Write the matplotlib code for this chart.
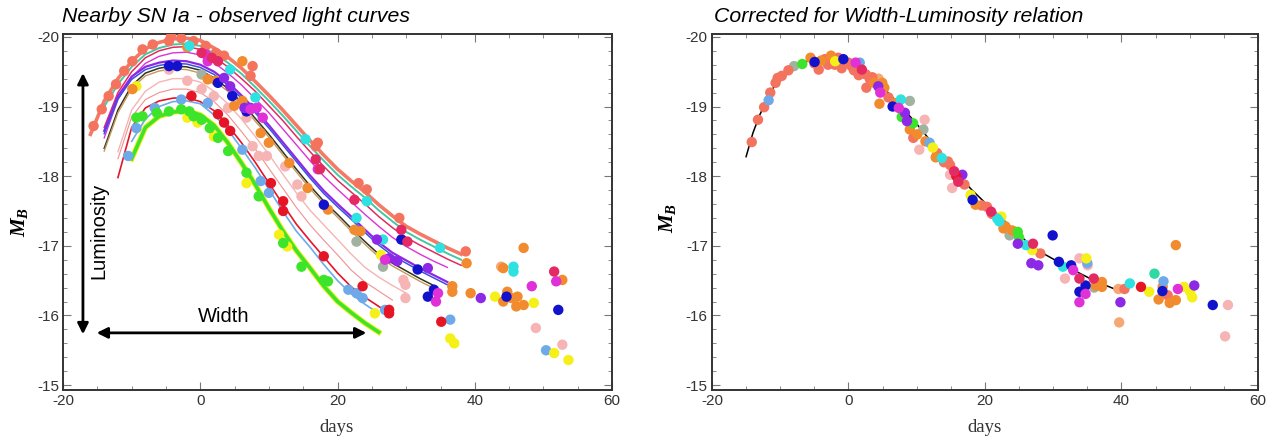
import numpy as np
import matplotlib.pyplot as plt
from matplotlib.ticker import MultipleLocator

plt.rcParams['axes.unicode_minus'] = False
plt.rcParams['mathtext.fontset'] = 'custom'
plt.rcParams['mathtext.it'] = 'Liberation Serif:italic:bold'
plt.rcParams['mathtext.rm'] = 'Liberation Serif:bold'

nan = np.nan

# ---- fitted light curves of the left panel (days since B max, M_B) ----
curve_days = [-16, -14, -12, -10, -8, -6, -4, -2, 0, 2, 4, 6, 8, 10, 12, 14,
              16, 18, 20, 22, 24, 26, 28, 30, 32, 34, 36, 38, 40]

curve_tomato = [-18.60, -19.08, -19.40, -19.65, -19.83, -19.92, -19.97, -19.98, -19.95, -19.84,
                -19.71, -19.55, -19.36, -19.16, -18.95, -18.73, -18.51, -18.30, -18.10, -17.93,
                -17.77, -17.59, -17.43, -17.28, -17.17, -17.07, -16.97, -16.88, nan]
curve_aqua = [nan, -19.00, -19.32, -19.57, -19.75, -19.84, -19.89, -19.90, -19.87, -19.76,
              -19.63, -19.47, -19.28, -19.08, -18.87, -18.65, -18.43, -18.22, -18.02, -17.85,
              -17.69, -17.51, -17.35, -17.20, -17.09, -16.99, -16.89, -16.80, nan]
curve_crimson = [nan, -18.70, -19.20, -19.50, -19.70, -19.80, -19.85, -19.86, -19.82, -19.71,
                 -19.57, -19.40, -19.22, -19.01, -18.80, -18.57, -18.35, -18.14, -17.94, -17.77,
                 -17.60, -17.42, -17.26, -17.12, -17.01, -16.91, -16.81, -16.72, nan]
curve_magenta = [nan, -18.55, -19.10, -19.42, -19.62, -19.72, -19.77, -19.78, -19.74, -19.63,
                 -19.48, -19.31, -19.11, -18.91, -18.68, -18.45, -18.22, -18.00, -17.81, -17.63,
                 -17.45, -17.28, -17.12, -16.99, -16.88, -16.78, -16.69, nan, nan]
curve_purple = [nan, -18.65, -19.15, -19.43, -19.57, -19.63, -19.66, -19.65, -19.60, -19.50,
                -19.35, -19.16, -18.95, -18.73, -18.49, -18.25, -18.01, -17.79, -17.60, -17.42,
                -17.23, -17.05, -16.90, -16.79, -16.68, -16.58, -16.48, nan, nan]
curve_blue = [nan, -18.61, -19.11, -19.39, -19.53, -19.59, -19.62, -19.61, -19.56, -19.46,
              -19.31, -19.12, -18.91, -18.69, -18.45, -18.21, -17.97, -17.75, -17.56, -17.38,
              -17.19, -17.01, -16.86, -16.75, -16.64, -16.54, -16.44, nan, nan]
curve_dark = [nan, -18.40, -18.95, -19.30, -19.48, -19.55, -19.58, -19.57, -19.52, -19.41,
              -19.26, -19.06, -18.83, -18.60, -18.35, -18.10, -17.86, -17.64, -17.45, -17.25,
              -17.06, -16.88, -16.75, -16.64, -16.53, -16.43, nan, nan, nan]
curve_tan = [nan, -18.36, -18.91, -19.26, -19.44, -19.51, -19.54, -19.53, -19.48, -19.37,
             -19.22, -19.02, -18.79, -18.56, -18.31, -18.06, -17.82, -17.60, -17.41, -17.21,
             -17.02, -16.84, -16.71, -16.60, -16.49, -16.39, nan, nan, nan]
curve_pink = [nan, nan, -18.35, -18.95, -19.22, -19.35, -19.40, -19.40, -19.35, -19.22,
              -19.04, -18.82, -18.57, -18.31, -18.03, -17.76, -17.51, -17.30, -17.09, -16.88,
              -16.69, -16.55, -16.43, -16.32, nan, nan, nan, nan, nan]
curve_coral = [nan, nan, -18.25, -18.85, -19.10, -19.20, -19.25, -19.25, -19.20, -19.07,
               -18.88, -18.64, -18.39, -18.11, -17.83, -17.55, -17.30, -17.08, -16.87, -16.65,
               -16.48, -16.35, -16.22, nan, nan, nan, nan, nan, nan]
curve_red = [nan, nan, -17.98, -18.70, -18.98, -19.08, -19.12, -19.13, -19.07, -18.94,
             -18.73, -18.48, -18.20, -17.90, -17.60, -17.31, -17.07, -16.84, -16.61, -16.41,
             -16.26, -16.13, -16.00, nan, nan, nan, nan, nan, nan]
curve_lightblue = [nan, nan, nan, -18.50, -18.82, -19.00, -19.07, -19.08, -19.04, -18.88,
                   -18.67, -18.40, -18.12, -17.81, -17.50, -17.21, -16.98, -16.73, -16.50, -16.31,
                   -16.16, -16.03, nan, nan, nan, nan, nan, nan, nan]
curve_green = [nan, nan, nan, -18.25, -18.70, -18.86, -18.92, -18.94, -18.88, -18.73,
               -18.48, -18.19, -17.88, -17.54, -17.22, -16.93, -16.68, -16.42, -16.20, -16.04,
               -15.89, -15.76, nan, nan, nan, nan, nan, nan, nan]

# ---- template of the right panel ----
template_days = [-15, -14, -13, -12, -11, -10, -9, -8, -6, -4, -2, 0, 2, 4, 6, 8, 10,
                 12, 14, 16, 18, 20, 22, 24, 26, 28, 30, 32, 34, 36, 38, 39]
template_mag = [-18.28, -18.62, -18.88, -19.08, -19.27, -19.41, -19.51, -19.58, -19.65, -19.68,
                -19.67, -19.62, -19.52, -19.37, -19.18, -18.97, -18.75, -18.51, -18.27, -18.03,
                -17.81, -17.62, -17.44, -17.25, -17.07, -16.92, -16.81, -16.70, -16.60, -16.50,
                -16.42, -16.38]

# ---- observed points, left panel (day, M_B) ----
left_tomato = [(-15.55, -18.72), (-14.36, -18.96), (-13.35, -19.15), (-12.28, -19.32),
               (-11.09, -19.51), (-9.90, -19.65), (-8.42, -19.82), (-6.93, -19.89),
               (-4.56, -19.94), (-4.26, -20.01), (-2.78, -19.98), (-0.99, -19.94),
               (0.79, -19.87), (2.27, -19.77), (3.46, -19.73), (7.32, -19.44), (7.62, -19.58),
               (17.12, -18.48), (16.82, -18.43), (23.06, -17.90), (24.25, -17.81),
               (29.0, -17.40), (38.68, -16.92)]
left_orange = [(-9.90, -19.25), (-1.89, -19.85), (1.08, -19.39), (2.27, -19.37), (4.94, -19.01),
               (6.13, -19.08), (6.13, -19.65), (8.80, -18.62), (9.99, -18.48), (12.96, -18.19),
               (15.63, -17.83), (18.60, -17.52), (22.46, -17.23), (23.35, -17.21),
               (36.72, -16.42), (36.72, -16.34), (39.39, -16.32), (44.14, -16.68),
               (44.73, -16.34), (45.33, -16.25), (46.22, -16.27), (47.11, -16.15),
               (46.04, -16.13), (44.14, -16.20), (47.11, -16.97), (52.75, -16.51), (38.80, -16.75)]
left_crimson = [(0.19, -19.77), (1.68, -19.70), (2.57, -19.65), (16.82, -18.24), (17.42, -18.10),
                (22.46, -17.66), (29.29, -17.23), (30.18, -17.06), (51.56, -16.63)]
left_red = [(-1.29, -19.15), (2.57, -18.89), (3.46, -18.77), (4.35, -18.65), (10.29, -17.90),
            (12.07, -17.64), (12.07, -17.50), (17.99, -16.85), (23.65, -16.42), (27.51, -16.08),
            (27.51, -16.03), (35.11, -15.91)]
left_magenta = [(0.79, -19.75), (1.08, -19.65), (7.32, -18.96), (8.21, -18.98), (9.10, -18.84),
                (17.12, -18.10), (26.92, -16.80), (34.34, -16.20), (34.64, -16.32),
                (48.30, -16.42), (51.86, -16.49)]
left_purple = [(3.46, -19.41), (4.35, -19.29), (6.43, -18.98), (7.32, -18.98), (25.73, -17.09),
               (27.51, -16.82), (28.70, -16.78), (33.15, -16.68), (40.87, -16.25)]
left_navy = [(-3.37, -19.58), (-4.56, -19.58), (2.57, -19.34), (4.65, -19.15), (6.73, -18.93),
             (18.0, -17.59), (29.29, -17.09), (31.67, -16.66), (33.15, -16.27), (34.04, -16.37),
             (44.62, -16.27), (52.16, -16.08)]
left_cyan = [(-1.59, -19.87), (4.35, -19.53), (8.03, -19.13), (15.33, -18.53), (24.25, -17.64),
             (22.76, -17.40), (26.62, -17.09), (34.93, -16.97), (45.63, -16.70), (45.63, -16.63)]
left_green = [(-9.31, -18.84), (-8.42, -18.86), (-6.34, -18.91), (-4.56, -18.93), (-2.78, -18.96),
              (-1.59, -18.93), (-0.99, -18.86), (0.19, -18.81), (1.38, -18.69), (2.57, -18.55),
              (4.05, -18.36), (6.73, -18.05), (8.51, -17.71), (12.07, -17.04), (14.74, -16.70),
              (18.0, -16.51), (18.6, -16.49)]
left_yellow = [(-9.31, -19.29), (-1.89, -18.84), (-0.40, -18.77), (1.97, -18.57), (6.73, -17.90),
               (11.48, -17.16), (12.66, -16.99), (25.43, -16.03), (26.32, -16.87), (36.42, -15.67),
               (37.0, -15.60), (42.95, -16.27), (48.59, -16.18), (51.56, -15.46), (53.64, -15.36)]
left_lightblue = [(-10.50, -18.29), (-9.31, -18.69), (-6.64, -18.98), (-2.78, -19.10),
                  (1.08, -19.05), (6.13, -18.38), (8.80, -17.93), (9.99, -17.76), (21.57, -16.37),
                  (22.76, -16.32), (23.65, -16.25), (26.92, -16.08), (36.42, -15.94),
                  (50.38, -15.50)]
left_pink = [(-4.56, -19.53), (-1.89, -19.37), (0.19, -19.25), (1.97, -19.15), (4.05, -18.98),
             (6.73, -18.84), (7.62, -18.43), (8.51, -18.29), (9.70, -18.29), (12.37, -18.14),
             (14.15, -17.88), (14.74, -17.71), (29.59, -16.51), (29.89, -16.44), (29.89, -16.25),
             (48.89, -15.82), (52.75, -15.58)]
left_gray = [(0.19, -19.46), (22.76, -17.06), (26.62, -16.70)]
left_peach = [(43.84, -16.70)]

# ---- corrected points, right panel (day, M_B) ----
right_salmon = [(-14.17, -18.49), (-13.26, -18.81), (-12.36, -18.99), (-11.46, -19.20),
                (-10.68, -19.34), (-10.38, -19.41), (-9.77, -19.44), (-8.8, -19.52),
                (-4.36, -19.53), (-5.0, -19.62), (-3.46, -19.68), (-3.0, -19.60), (-2.0, -19.60),
                (-1.5, -19.70), (-1.35, -19.63), (-1.0, -19.55), (0.0, -19.63), (0.45, -19.58),
                (0.8, -19.52), (1.2, -19.55), (1.5, -19.45), (2.56, -19.46), (3.16, -19.39),
                (2.62, -19.27), (3.5, -19.42), (5.86, -19.13), (9.5, -18.55), (13.0, -18.33),
                (14.0, -18.20), (14.59, -18.21), (14.89, -18.16), (17.0, -17.88), (19.5, -17.58),
                (20.30, -17.56), (21.0, -17.46), (28.12, -16.89), (40.45, -16.38), (46.77, -16.29)]
right_orange = [(-5.56, -19.70), (-2.56, -19.73), (-4.0, -19.66), (3.76, -19.34), (4.96, -19.34),
                (5.26, -19.27), (4.54, -19.04), (6.8, -19.05), (8.99, -18.67), (10.08, -18.60),
                (11.28, -18.50), (12.78, -18.27), (18.62, -17.59), (22.71, -17.25), (23.0, -17.28),
                (24.0, -17.22), (36.24, -16.43), (37.14, -16.48), (37.14, -16.41),
                (45.44, -16.23), (46.04, -16.41), (47.07, -16.18), (47.97, -16.22), (47.97, -17.01)]
right_peach = [(39.55, -16.38), (39.67, -15.90), (4.4, -19.40)]
right_gray = [(-7.97, -19.58), (8.99, -19.08), (10.98, -18.67), (23.61, -17.15), (36.0, -16.40)]
right_green = [(-6.77, -19.61), (9.47, -18.76), (24.81, -17.20), (7.8, -18.85), (25.0, -17.12)]
right_navy = [(-4.96, -19.64), (-0.75, -19.68), (6.47, -19.00), (18.19, -17.66), (29.92, -17.15),
              (30.83, -16.77), (32.63, -16.72), (34.74, -16.43), (33.84, -16.34), (53.38, -16.15),
              (46.0, -16.35)]
right_yellow = [(-1.95, -19.65), (12.36, -18.41), (17.89, -17.73), (22.41, -17.42), (26.92, -16.94),
                (34.86, -16.82), (44.06, -16.34), (49.17, -16.41), (50.07, -16.34), (50.37, -16.26)]
right_magenta = [(1.05, -19.63), (4.66, -19.20), (7.37, -18.98), (32.93, -16.65), (34.74, -16.31),
                 (33.84, -16.19), (48.27, -16.38)]
right_lightblue = [(-11.70, -19.09), (1.65, -19.63), (11.88, -18.48), (46.16, -16.49), (35.0, -16.75)]
right_crimson = [(1.96, -19.53), (15.49, -18.07), (16.09, -17.92), (20.90, -17.49), (27.04, -17.03),
                 (33.84, -16.53), (35.94, -16.53)]
right_red = [(42.86, -16.41), (15.8, -18.0)]
right_purple = [(4.36, -19.29), (8.27, -18.91), (8.57, -18.79), (16.69, -18.02), (24.81, -17.03),
                (26.80, -16.75), (27.82, -16.72), (39.85, -16.19), (50.67, -16.43)]
right_cyan = [(7.67, -19.10), (13.68, -18.26), (21.81, -17.39), (22.11, -17.35), (26.02, -17.01),
              (31.43, -16.70), (41.23, -16.46)]
right_teal = [(44.84, -16.60)]
right_pink = [(11.16, -18.81), (10.38, -18.38), (14.89, -18.02), (15.19, -17.83), (31.73, -16.53),
              (33.84, -16.82), (35.04, -16.72), (55.61, -16.15), (55.19, -15.70)]

C = {
    'tomato': '#f47a66', 'aqua': '#44c8a4', 'crimson': '#e42a62', 'magenta': '#e030d8',
    'purple': '#8c28e6', 'blue': '#3a50e0', 'dark': '#333320', 'tan': '#c49a5c',
    'pink': '#f6b4b4', 'coral': '#f29090', 'red': '#e61526', 'lightblue': '#6eaaea',
    'green': '#3ce52c', 'yellow': '#f4f018', 'orange': '#f28a2e', 'navy': '#1212cc',
    'cyan': '#2fe2e2', 'gray': '#a2b2a0', 'peach': '#f6a874', 'salmon': '#f4735e',
    'teal': '#2fd8a4',
}

fig = plt.figure(figsize=(12.84, 4.46), dpi=100)
ax1 = fig.add_axes([0.0491, 0.1256, 0.4276, 0.798])
ax2 = fig.add_axes([0.5545, 0.1256, 0.4252, 0.798])


def dots(ax, pts, color):
    arr = np.array(pts)
    ax.scatter(arr[:, 0], arr[:, 1], s=56, color=color, edgecolors='none', zorder=3)


# left: fitted curves
ax1.plot(curve_days, curve_tomato, color=C['tomato'], lw=2.6, zorder=2)
ax1.plot(curve_days, curve_aqua, color=C['aqua'], lw=1.4, zorder=2)
ax1.plot(curve_days, curve_crimson, color=C['crimson'], lw=1.1, zorder=2)
ax1.plot(curve_days, curve_magenta, color=C['magenta'], lw=1.0, zorder=2)
ax1.plot(curve_days, curve_purple, color=C['purple'], lw=1.6, zorder=2)
ax1.plot(curve_days, curve_blue, color=C['blue'], lw=1.1, zorder=2)
ax1.plot(curve_days, curve_dark, color=C['dark'], lw=1.1, zorder=2)
ax1.plot(curve_days, curve_tan, color=C['tan'], lw=1.0, zorder=2)
ax1.plot(curve_days, curve_pink, color=C['pink'], lw=1.0, zorder=2)
ax1.plot(curve_days, curve_coral, color=C['coral'], lw=0.8, zorder=2)
ax1.plot(curve_days, curve_red, color=C['red'], lw=1.2, zorder=2)
ax1.plot(curve_days, curve_lightblue, color=C['lightblue'], lw=1.2, zorder=2)
ax1.plot(curve_days, curve_green, color=C['yellow'], lw=4.0, zorder=2)
ax1.plot(curve_days, curve_green, color=C['green'], lw=2.6, zorder=2)

for pts, c in [(left_pink, 'pink'), (left_gray, 'gray'), (left_peach, 'peach'),
               (left_lightblue, 'lightblue'), (left_yellow, 'yellow'), (left_green, 'green'),
               (left_orange, 'orange'), (left_tomato, 'salmon'), (left_cyan, 'cyan'),
               (left_navy, 'navy'), (left_purple, 'purple'), (left_magenta, 'magenta'),
               (left_red, 'red'), (left_crimson, 'crimson')]:
    dots(ax1, pts, C[c])

# right: template and corrected points
ax2.plot(template_days, template_mag, color='black', lw=1.1, zorder=2)
for pts, c in [(right_pink, 'pink'), (right_gray, 'gray'), (right_peach, 'peach'),
               (right_salmon, 'salmon'), (right_orange, 'orange'), (right_lightblue, 'lightblue'),
               (right_yellow, 'yellow'), (right_green, 'green'), (right_teal, 'teal'),
               (right_cyan, 'cyan'), (right_navy, 'navy'), (right_purple, 'purple'),
               (right_magenta, 'magenta'), (right_red, 'red'), (right_crimson, 'crimson')]:
    dots(ax2, pts, C[c])

serif = 'Liberation Serif'
sans = 'Liberation Sans'
for ax in (ax1, ax2):
    ax.set_xlim(-20, 60)
    ax.set_ylim(-14.93, -20.04)
    ax.xaxis.set_major_locator(MultipleLocator(20))
    ax.xaxis.set_minor_locator(MultipleLocator(5))
    ax.yaxis.set_major_locator(MultipleLocator(1))
    ax.yaxis.set_minor_locator(MultipleLocator(0.2))
    ax.tick_params(which='both', direction='in', top=True, right=True, colors='#777777',
                   labelcolor='#333333', labelsize=11, pad=3)
    ax.tick_params(which='major', length=6, width=0.8)
    ax.tick_params(which='minor', length=3, width=0.6)
    for lab in ax.get_xticklabels() + ax.get_yticklabels():
        lab.set_fontfamily(sans)
    for sp in ax.spines.values():
        sp.set_color('#333333')
        sp.set_linewidth(1.4)

# axis labels
fig.text(337 / 1284, 1 - 427 / 446, 'days', family=serif, fontsize=13.5, color='#333333',
         ha='center', va='center')
fig.text(985 / 1284, 1 - 427 / 446, 'days', family=serif, fontsize=13.5, color='#333333',
         ha='center', va='center')
fig.text(20 / 1284, 1 - 222 / 446, r'$M_B$', fontsize=15, rotation=90, ha='center', va='center')
fig.text(668 / 1284, 1 - 218 / 446, r'$M_B$', fontsize=15, rotation=90, ha='center', va='center')

# titles
fig.text(62 / 1284, 1 - 16 / 446, 'Nearby SN Ia - observed light curves', family=sans,
         style='italic', fontsize=15.3, ha='left', va='center')
fig.text(714 / 1284, 1 - 16 / 446, 'Corrected for Width-Luminosity relation', family=sans,
         style='italic', fontsize=15.3, ha='left', va='center')

# width / luminosity annotation
ax1.annotate('', xy=(-17.1, -19.48), xytext=(-17.1, -15.73),
             arrowprops=dict(arrowstyle='<|-|>', color='black', lw=2, mutation_scale=16,
                             shrinkA=0, shrinkB=0), zorder=4)
ax1.annotate('', xy=(-15.1, -15.75), xytext=(24.2, -15.75),
             arrowprops=dict(arrowstyle='<|-|>', color='black', lw=2, mutation_scale=16,
                             shrinkA=0, shrinkB=0), zorder=4)
ax1.text(-14.75, -17.21, 'Luminosity', family=sans, fontsize=14.5, rotation=90,
         ha='center', va='center', zorder=4)
ax1.text(3.46, -15.98, 'Width', family=sans, fontsize=14.5, ha='center', va='center', zorder=4)

fig.savefig('out.png', dpi=100)
